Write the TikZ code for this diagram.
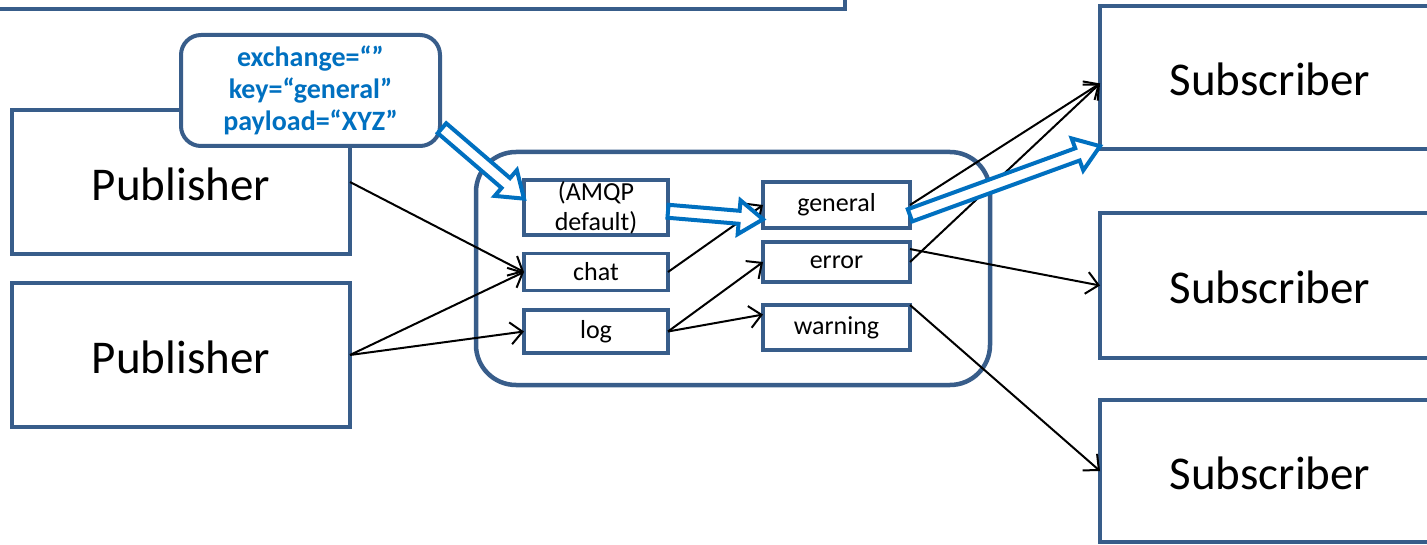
\documentclass[tikz,border=0pt]{standalone}
\usepackage{fontspec}
\setmainfont{Carlito}
\usetikzlibrary{calc,arrows.meta}
\definecolor{boxblue}{RGB}{56,93,138}
\definecolor{msgblue}{RGB}{0,112,192}
\tikzset{
  pbox/.style={draw=boxblue,line width=4pt,fill=white,inner sep=0pt,outer sep=0pt,
    text height=37pt,text depth=0pt,font=\fontsize{47}{56}\selectfont},
  qbox/.style={draw=boxblue,line width=3.5pt,fill=white,inner sep=0pt,outer sep=0pt,
    align=center,font=\fontsize{26}{30}\selectfont},
  link/.style={line width=2pt,-{Straight Barb[length=12pt,width=22pt]}},
  blockarr/.style={draw=msgblue,line width=4pt,fill=white,line join=miter},
}
\newcommand\blockarrow[2]{%
  \coordinate (ba-t) at (#1);
  \coordinate (ba-h) at (#2);
  \coordinate (ba-b) at ($(ba-h)!24pt!(ba-t)$);
  \draw[blockarr] ($(ba-t)!6.5pt!90:(ba-h)$) -- ($(ba-b)!6.5pt!90:(ba-h)$)
    -- ($(ba-b)!17pt!90:(ba-h)$) -- (ba-h) -- ($(ba-b)!17pt!-90:(ba-h)$)
    -- ($(ba-b)!6.5pt!-90:(ba-h)$) -- ($(ba-t)!6.5pt!-90:(ba-h)$) -- cycle;
}
\begin{document}
\begin{tikzpicture}[x=1pt,y=-1pt]
\useasboundingbox (0,0) rectangle (1427,545);
\clip (0,0) rectangle (1427,545);
% partially visible box at top
\node[pbox,minimum width=865pt,minimum height=69pt] (note) at (412.5,-25.5) {};
% publishers
\node[pbox,minimum width=338pt,minimum height=144pt] (pub1) at (181,182) {Publisher};
\node[pbox,minimum width=338pt,minimum height=144pt] (pub2) at (181,355) {Publisher};
% subscribers
\node[pbox,minimum width=340pt,minimum height=143pt] (sub1) at (1270,77.5) {Subscriber};
\node[pbox,minimum width=340pt,minimum height=144pt] (sub2) at (1270,285.5) {Subscriber};
\node[pbox,minimum width=340pt,minimum height=142pt] (sub3) at (1270,471) {Subscriber};
% exchange container
\node[draw=boxblue,line width=4.5pt,rounded corners=40pt,minimum width=514pt,minimum height=233pt,outer sep=0pt] (exch) at (733,268.5) {};
% exchanges and queues
\node[qbox,minimum width=144pt,minimum height=55pt] (amqp) at (596,207.5) {(AMQP\\default)};
\node[qbox,minimum width=144pt,minimum height=37pt] (chat) at (596,272) {chat};
\node[qbox,minimum width=144pt,minimum height=43pt] (log) at (596,331.5) {log};
\node[qbox,minimum width=147pt,minimum height=46pt] (general) at (836.5,205) {general};
\node[qbox,minimum width=147pt,minimum height=40pt] (error) at (836.5,262) {error};
\node[qbox,minimum width=147pt,minimum height=45pt] (warning) at (836.5,327.5) {warning};
% message
\node[draw=boxblue,line width=4pt,fill=white,rounded corners=20pt,minimum width=259pt,minimum height=111pt,
  align=center,text=msgblue,font=\fontsize{28}{32}\selectfont\bfseries,inner sep=0pt] (msg) at (310.5,90.5)
  {exchange=“”\\key=“general”\\payload=“XYZ”};
% black bindings
\draw[link] (pub1.east) -- (chat.west);
\draw[link] (pub2.east) -- (chat.west);
\draw[link] (pub2.east) -- (log.west);
\draw[link] (chat.east) -- (general.west);
\draw[link] (log.east) -- (error.west);
\draw[link] (log.east) -- (warning.170);
\draw[link] (general.east) -- (sub1.182);
\draw[link] (error.east) -- (sub1.182);
\draw[link] (error.10) -- (sub2.west);
\draw[link] (warning.north east) -- (sub3.west);
% message path
\blockarrow{msg.-16}{amqp.173}
\blockarrow{amqp.-3}{general.191}
\blockarrow{general.-8}{sub1.202}
\end{tikzpicture}
\end{document}
